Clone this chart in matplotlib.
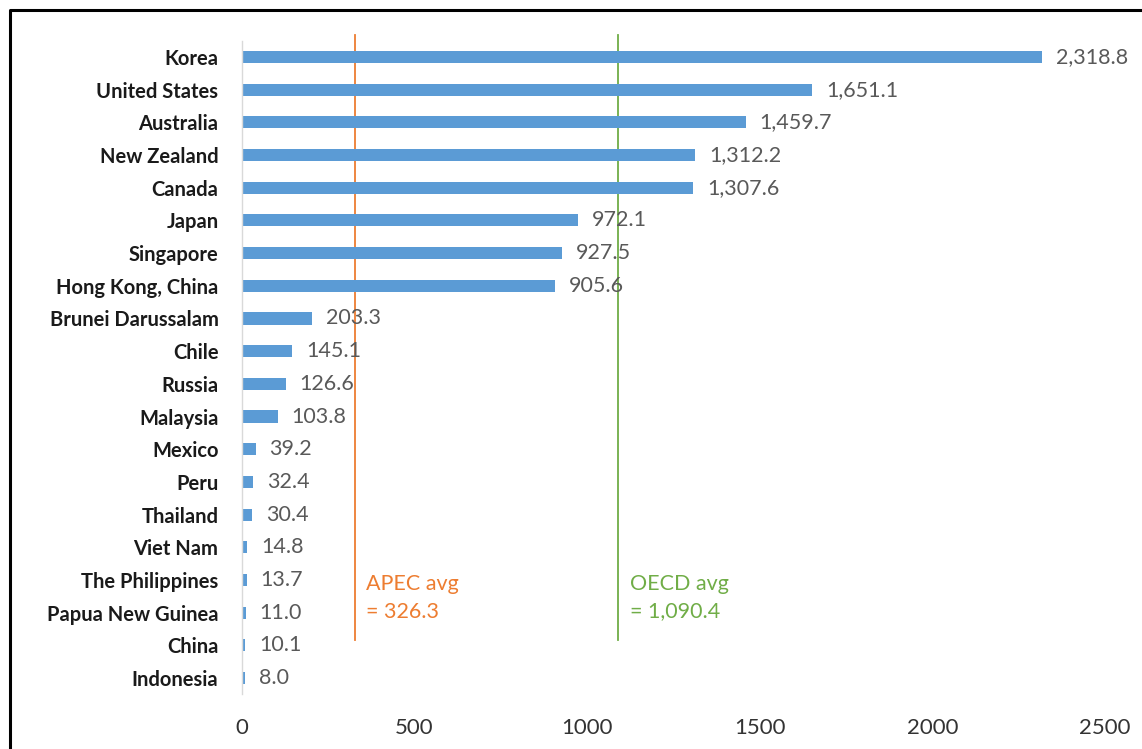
import matplotlib
matplotlib.use("Agg")
import matplotlib.pyplot as plt
from matplotlib.lines import Line2D

economies = ["Korea", "United States", "Australia", "New Zealand", "Canada",
             "Japan", "Singapore", "Hong Kong, China", "Brunei Darussalam",
             "Chile", "Russia", "Malaysia", "Mexico", "Peru", "Thailand",
             "Viet Nam", "The Philippines", "Papua New Guinea", "China",
             "Indonesia"]
values = [2318.8, 1651.1, 1459.7, 1312.2, 1307.6, 972.1, 927.5, 905.6,
          203.3, 145.1, 126.6, 103.8, 39.2, 32.4, 30.4, 14.8, 13.7, 11.0,
          10.1, 8.0]
apec_avg = 326.3
oecd_avg = 1090.4
x_ticks = [0, 500, 1000, 1500, 2000, 2500]

plt.rcParams["font.family"] = ["Lato", "DejaVu Sans"]

W, H = 1142, 749
fig = plt.figure(figsize=(W / 100, H / 100), dpi=100)
ax = fig.add_axes([242 / W, 1 - 694.4 / H, (1105 - 242) / W, (694.4 - 40.6) / H])

bar_color = "#5B9BD5"
apec_color = "#ED7D31"
oecd_color = "#70AD47"

pos = list(range(len(economies)))
ax.barh(pos, values, height=0.37, color=bar_color, zorder=2)
ax.set_ylim(len(economies) - 0.5, -0.5)
ax.set_xlim(0, 2500)

for p, v in zip(pos, values):
    ax.annotate(f"{v:,.1f}", (v, p), xytext=(10, 0), textcoords="offset points",
                va="center", ha="left", fontsize=15.5, color="#595959")

ax.set_yticks(pos)
ax.set_yticklabels(economies, fontsize=14.5, fontweight="bold", color="#1a1a1a")
ax.set_xticks(x_ticks)
ax.set_xticklabels([str(t) for t in x_ticks], fontsize=16, color="#333333")
ax.tick_params(axis="y", length=0, pad=17)
ax.tick_params(axis="x", length=0, pad=17)

for side in ["top", "right", "bottom"]:
    ax.spines[side].set_visible(False)
ax.spines["left"].set_color("#D9D9D9")
ax.spines["left"].set_linewidth(1.0)

# average reference lines with their labels
for val, col, name in [(apec_avg, apec_color, "APEC avg"),
                       (oecd_avg, oecd_color, "OECD avg")]:
    ax.axvline(val, ymin=0.083, ymax=1.008, color=col, lw=1.3, zorder=1,
               clip_on=False)
    ax.annotate(f"{name}\n= {val:,.1f}", (val, 16.55), xytext=(8, 0),
                textcoords="offset points", va="center", ha="left",
                fontsize=15.5, color=col, linespacing=1.45)

# outer frame of the figure panel
frame = Line2D([10 / W, 10 / W, 1.01], [-0.01, 1 - 10 / H, 1 - 10 / H],
               transform=fig.transFigure, color="black", lw=2.2)
fig.add_artist(frame)

fig.savefig("out.png", dpi=100, facecolor="white")
